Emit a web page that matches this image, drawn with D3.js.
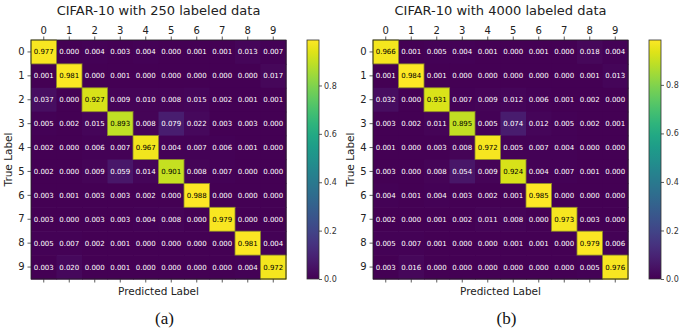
<!DOCTYPE html>
<html><head><meta charset="utf-8">
<script src="https://cdn.jsdelivr.net/npm/d3@7"></script>
<style>body{margin:0;background:#fff;}svg{display:block;font-family:"DejaVu Sans",sans-serif;}</style>
</head><body>
<svg id="c" width="685" height="331"></svg>
<script>
const classes = ["0","1","2","3","4","5","6","7","8","9"];
const titles = ["CIFAR-10 with 250 labeled data", "CIFAR-10 with 4000 labeled data"];
const captions = ["(a)", "(b)"];
const cbTicks = [0, 0.2, 0.4, 0.6, 0.8];
const matrix250 = [
 [0.977,0.000,0.004,0.003,0.004,0.000,0.001,0.001,0.013,0.007],
 [0.001,0.981,0.000,0.001,0.000,0.000,0.000,0.000,0.000,0.017],
 [0.037,0.000,0.927,0.009,0.010,0.008,0.015,0.002,0.001,0.001],
 [0.005,0.002,0.015,0.893,0.008,0.079,0.022,0.003,0.003,0.000],
 [0.002,0.000,0.006,0.007,0.967,0.004,0.007,0.006,0.001,0.000],
 [0.002,0.000,0.009,0.059,0.014,0.901,0.008,0.007,0.000,0.000],
 [0.003,0.001,0.003,0.003,0.002,0.000,0.988,0.000,0.000,0.000],
 [0.003,0.000,0.003,0.003,0.004,0.008,0.000,0.979,0.000,0.000],
 [0.005,0.007,0.002,0.001,0.000,0.000,0.000,0.000,0.981,0.004],
 [0.003,0.020,0.000,0.001,0.000,0.000,0.000,0.000,0.004,0.972]
];
const matrix4000 = [
 [0.966,0.001,0.005,0.004,0.001,0.000,0.001,0.000,0.018,0.004],
 [0.001,0.984,0.001,0.000,0.000,0.000,0.000,0.000,0.001,0.013],
 [0.032,0.000,0.931,0.007,0.009,0.012,0.006,0.001,0.002,0.000],
 [0.003,0.002,0.011,0.895,0.005,0.074,0.012,0.005,0.002,0.001],
 [0.001,0.000,0.003,0.008,0.972,0.005,0.007,0.004,0.000,0.000],
 [0.003,0.000,0.008,0.054,0.009,0.924,0.004,0.007,0.001,0.000],
 [0.004,0.001,0.004,0.003,0.002,0.001,0.985,0.000,0.000,0.000],
 [0.002,0.000,0.001,0.002,0.011,0.008,0.000,0.973,0.003,0.000],
 [0.005,0.007,0.001,0.000,0.000,0.001,0.001,0.000,0.979,0.006],
 [0.003,0.016,0.000,0.000,0.000,0.000,0.000,0.000,0.005,0.976]
];

const svg = d3.select("#c");
const panels = [
  {m: matrix250, x0: 31, x1: 286, cb: 307, title: titles[0], cap: captions[0]},
  {m: matrix4000, x0: 373, x1: 628, cb: 649, title: titles[1], cap: captions[1]}
];
const y0 = 40, y1 = 279, cbW = 12;

panels.forEach((p, pi) => {
  const flat = p.m.flat();
  const vmin = d3.min(flat), vmax = d3.max(flat);
  const color = d3.scaleSequential(d3.interpolateViridis).domain([vmin, vmax]);
  const x = d3.scaleBand().domain(classes).range([p.x0, p.x1]);
  const y = d3.scaleBand().domain(classes).range([y0, y1]);
  const g = svg.append("g");
  const cells = [];
  p.m.forEach((row, i) => row.forEach((v, j) => cells.push({r: classes[i], c: classes[j], v})));
  g.selectAll("rect.cell").data(cells).enter().append("rect")
    .attr("x", d => x(d.c)).attr("y", d => y(d.r))
    .attr("width", x.bandwidth() + 0.6).attr("height", y.bandwidth() + 0.6)
    .attr("fill", d => color(d.v));
  g.selectAll("rect.hi").data(cells.filter(d => d.v > vmax / 2)).enter().append("rect")
    .attr("x", d => x(d.c)).attr("y", d => y(d.r))
    .attr("width", x.bandwidth()).attr("height", y.bandwidth())
    .attr("fill", "none").attr("stroke", "#8c8a2a").attr("stroke-width", 0.8);
  g.selectAll("text.val").data(cells).enter().append("text")
    .attr("x", d => x(d.c) + x.bandwidth() / 2)
    .attr("y", d => y(d.r) + y.bandwidth() / 2)
    .attr("dy", "0.35em").attr("text-anchor", "middle")
    .attr("font-size", 7).attr("fill", d => d.v > vmax / 2 ? "#000" : "#fff")
    .text(d => d3.format(".3f")(d.v));
  g.append("rect").attr("x", p.x0).attr("y", y0).attr("width", p.x1 - p.x0).attr("height", y1 - y0)
    .attr("fill", "none").attr("stroke", "#222").attr("stroke-width", 0.8);

  const top = g.append("g").attr("transform", `translate(0,${y0})`)
    .call(d3.axisTop(x).tickSize(3.5).tickPadding(3));
  const bot = g.append("g").attr("transform", `translate(0,${y1})`)
    .call(d3.axisBottom(x).tickSize(3.5).tickFormat(""));
  const left = g.append("g").attr("transform", `translate(${p.x0},0)`)
    .call(d3.axisLeft(y).tickSize(3.5).tickPadding(3));
  [top, bot, left].forEach(a => {
    a.select(".domain").remove();
    a.selectAll("line").attr("stroke", "#333").attr("stroke-width", 0.8);
    a.selectAll("text").attr("font-size", 10).attr("fill", "#222").attr("font-family", "DejaVu Sans");
  });

  g.append("text").attr("x", (p.x0 + p.x1) / 2).attr("y", 15).attr("text-anchor", "middle")
    .attr("font-size", 13).attr("fill", "#222").text(p.title);
  g.append("text").attr("x", (p.x0 + p.x1) / 2).attr("y", 295).attr("text-anchor", "middle")
    .attr("font-size", 10.5).attr("fill", "#222").text("Predicted Label");
  g.append("text").attr("transform", `translate(${p.x0 - 19},${(y0 + y1) / 2}) rotate(-90)`)
    .attr("text-anchor", "middle").attr("font-size", 10.5).attr("fill", "#222").text("True Label");
  g.append("text").attr("x", (p.x0 + p.x1) / 2 + 6).attr("y", 324).attr("text-anchor", "middle")
    .attr("font-family", "Liberation Serif, serif").attr("font-size", 17).attr("fill", "#111").text(p.cap);

  // colorbar
  const cy = d3.scaleLinear().domain([vmin, vmax]).range([y1, y0]);
  const gid = "grad" + pi;
  const grad = svg.append("defs").append("linearGradient").attr("id", gid)
    .attr("x1", 0).attr("y1", 1).attr("x2", 0).attr("y2", 0);
  d3.range(0, 1.0001, 0.05).forEach(t => grad.append("stop").attr("offset", t).attr("stop-color", d3.interpolateViridis(t)));
  g.append("rect").attr("x", p.cb).attr("y", y0).attr("width", cbW).attr("height", y1 - y0)
    .attr("fill", `url(#${gid})`).attr("stroke", "#333").attr("stroke-width", 0.8);
  const ca = g.append("g").attr("transform", `translate(${p.cb + cbW},0)`)
    .call(d3.axisRight(cy).tickValues(cbTicks).tickFormat(d3.format(".1f")).tickSize(3).tickPadding(2));
  ca.select(".domain").remove();
  ca.selectAll("line").attr("stroke", "#333").attr("stroke-width", 0.8);
  ca.selectAll("text").attr("font-size", 8).attr("fill", "#333").attr("font-family", "DejaVu Sans");
});
</script>
</body></html>
